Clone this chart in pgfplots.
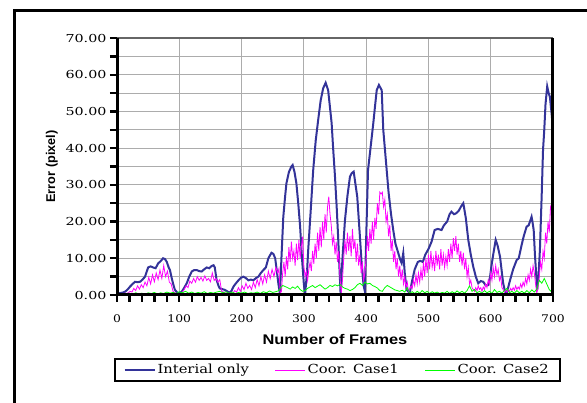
\documentclass[border=0pt]{standalone}
\usepackage{fontspec}
\setmainfont{DejaVu Serif}[FakeStretch=1.18]
\newfontfamily\ytickfont{DejaVu Serif}[FakeStretch=1.3]
\newfontfamily\labelfont{Liberation Sans}[FakeStretch=1.17]
\newfontfamily\ylabelfont{Liberation Sans}
\usepackage{pgfplots}
\pgfplotsset{compat=1.18}
\definecolor{cblue}{RGB}{51,51,153}
\definecolor{cmag}{RGB}{255,0,255}
\definecolor{cgreen}{RGB}{0,255,0}
\begin{document}
\begin{tikzpicture}
\useasboundingbox (0pt,0pt) rectangle (587pt,-403pt);
\fill[white] (0pt,0pt) rectangle (587pt,-403pt);
\draw[line width=2.7pt,black] (14.7pt,-410pt) -- (14.7pt,-10.7pt) -- (600pt,-10.7pt);
\begin{axis}[
  at={(117pt,-295pt)}, anchor=south west,
  scale only axis, width=436pt, height=257pt,
  xmin=0, xmax=700, ymin=0, ymax=70,
  clip mode=individual,
  axis x line*=bottom, axis y line*=left,
  axis line style={line width=3pt, black, -},
  xtick={0,100,...,700}, minor x tick num=4,
  ytick={0,10,...,70}, minor y tick num=1,
  tick align=outside,
  major tick length=7pt, minor tick length=7pt,
  major tick style={black, line width=2.4pt},
  minor tick style={black, line width=2.4pt},
  xmajorgrids, ymajorgrids, yminorgrids,
  major grid style={gray!65, line width=0.9pt},
  minor grid style={gray!65, line width=0.9pt},
  /pgf/number format/assume math mode=true,
  yticklabel style={font=\ytickfont\fontsize{11}{12}\selectfont,
    /pgf/number format/fixed, /pgf/number format/fixed zerofill, /pgf/number format/precision=2},
  xticklabel style={font=\fontsize{10.5}{12}\selectfont, yshift=-9pt},
  xlabel={\labelfont\bfseries Number of Frames},
  ylabel={\ylabelfont\bfseries Error (pixel)},
  xlabel style={at={(axis description cs:0.5,-0.1907)}, anchor=base, font=\fontsize{14}{16}\selectfont},
  ylabel style={at={(axis description cs:-0.142,0.5)}, anchor=base, font=\fontsize{12.7}{15}\selectfont},
  legend style={at={(axis description cs:0.505,-0.245)}, anchor=north, legend columns=3,
    line width=2pt, inner xsep=9pt, inner ysep=3.5pt,
    font=\fontsize{12.5}{14}\selectfont,
    /tikz/every even column/.append style={column sep=24pt}},
  legend cell align=left,
  legend image code/.code={\draw[#1] (0pt,0pt) -- (30pt,0pt);},
]
\addplot[draw=cblue, color=cblue, line width=2pt] coordinates {
(0,0.5)(5,0.5)(10,0.7)(13,0.9)(17,1.5)(21,2.3)(25,3.0)(29,3.6)(33,3.5)(37,3.6)
(41,4.2)(45,5.0)(48,6.5)(50,7.5)(54,7.8)(58,7.5)(62,7.3)(66,8.6)(70,9.2)(74,10.0)
(77,9.8)(80,9.0)(83,7.5)(85,6.8)(88,4.5)(91,2.5)(93,1.4)(96,0.8)(98,0.5)(101,0.6)
(104,0.9)(108,2.0)(112,3.2)(116,5.0)(120,6.4)(124,6.8)(128,6.8)(132,6.5)(136,6.4)(140,7.0)
(144,7.5)(148,7.3)(152,7.9)(155,8.1)(157,7.5)(160,4.0)(163,2.5)(165,1.8)(169,1.6)(173,1.4)
(177,1.0)(181,0.6)(184,1.2)(187,2.3)(191,3.2)(195,4.0)(199,4.7)(203,5.0)(207,4.6)(211,4.0)
(215,4.2)(219,4.0)(223,4.6)(227,5.0)(231,6.0)(235,6.8)(239,7.5)(243,10.0)(248,11.5)(251,11.2)
(254,10.0)(257,6.0)(259,3.2)(261.6,0.3)(264,10)(267,21.3)(270,27)(272,30.4)(276,33.5)(280,35)
(282,35.4)(285,33.5)(288,30.4)(291,25)(294,18.6)(297,10)(300,3)(302,0.2)(305,6)(307,12.3)
(311,23)(315,34)(319,42)(323,47.7)(327,53)(331,56.3)(335,57.8)(339,55.8)(342,51)(344.6,46.8)
(347,40)(350,32.2)(353,23)(355,15.9)(357,8)(359,0.3)(362,10)(366,20.4)(370,27)(374,32.2)
(377,33.2)(380,33.6)(383,30)(385.7,26.8)(388,21)(390,15.9)(393,8)(396,2.5)(398,1.0)(400,15)
(403,34)(407,40)(411.5,46.8)(414,51)(417,55.8)(420.5,57.2)(425,55.8)(427.5,45)(430,40)(433,34)
(436,28)(440,22)(443.5,17.7)(447,14)(451.6,11.4)(455,9.5)(457,8.7)(459.6,11.4)(462,6)(465,1.4)
(470,0.6)(474,4)(478,7)(483,9)(487,9.3)(491,9)(495,11)(500,12.5)(505,14.5)(510,17.7)
(515,18)(521,17.7)(525,19)(530,20)(534,22)(537,22.7)(541,22)(545,22.3)(549,23)(552,24)
(556,25)(560,21)(564,15)(568,11)(572,7.7)(576,5)(580,3.2)(584,3.8)(588,3.6)(592,2.6)
(596,2.7)(599,5)(601,7.7)(604,11)(608,15)(611,13.5)(615,10.4)(618,6)(620,3.2)(623,1)
(625.5,0.5)(628,2)(631,4)(636,7)(641.6,9.5)(645,10)(649.6,13.6)(653,16)(657.6,18.6)(661,19)
(665.6,21.3)(667,20)(669,17.7)(671,11)(674.6,1.4)(677,6)(679,12.3)(682,28)(684,39.5)(686,45)
(688,52)(690.7,56.8)(693,55)(695,54)(698,49)(700,45)
};
\addlegendentry{Interial only}
\addplot[draw=cmag, color=cmag, line width=0.8pt] coordinates {
(0,0.3)(3,0.2)(6,0.4)(9,0.3)(12,0.5)(15,0.4)(18,0.6)(21,1.0)(24,0.8)(27,1.8)
(30,1.2)(33,2.5)(36,1.6)(39,2.8)(42,2.0)(45,3.5)(48,2.5)(51,4.8)(54,3.0)(57,5.5)
(60,3.6)(63,6.0)(66,4.2)(69,6.8)(72,4.5)(75,8.0)(78,5.0)(81,6.5)(84,3.5)(87,3.0)
(90,1.0)(93,0.6)(96,0.4)(99,0.3)(102,0.4)(105,0.8)(108,1.5)(111,2.5)(114,2.0)(117,3.8)
(120,3.2)(123,4.5)(126,3.5)(129,5.0)(132,4.0)(135,4.8)(138,3.8)(141,5.2)(144,4.0)(147,4.5)
(150,3.6)(153,6.0)(156,4.0)(159,4.5)(162,3.5)(165,4.2)(168,1.0)(171,0.8)(174,0.5)(177,0.6)
(180,0.4)(183,0.7)(186,0.5)(189,1.2)(192,0.8)(195,2.0)(198,1.0)(201,2.5)(204,1.5)(207,3.2)
(210,1.8)(213,2.6)(216,1.5)(219,3.5)(222,2.0)(225,4.2)(228,2.5)(231,5.0)(234,3.0)(237,5.5)
(240,3.5)(243,6.5)(246,4.5)(249,7.0)(252,5.0)(255,7.5)(258,6.0)(260,7.2)(262,0.5)(264,1.0)
(266,6.0)(268,9.0)(270,5.0)(272,10.5)(274,7.0)(276,13.0)(278,9.0)(280,14.5)(282,10.0)(284,12.0)
(286,8.0)(288,14.0)(290,9.5)(292,15.0)(294,10.0)(296,13.0)(298,15.9)(300,8.0)(302,5.0)(304,6.5)
(306,4.0)(308,7.0)(310,9.0)(312,6.5)(314,12.0)(316,8.5)(318,14.0)(320,10.0)(322,17.0)(324,12.0)
(326,18.5)(328,13.0)(330,20.0)(332,15.0)(334,22.0)(336,17.0)(338,24.0)(340,26.8)(342,22.0)(344,19.0)
(346,14.0)(348,16.0)(350,11.0)(352,14.5)(354,9.0)(356,12.0)(358,5.0)(360,0.5)(362,4.0)(364,10.0)
(366,15.0)(368,11.0)(370,17.0)(372,12.0)(374,16.0)(376,10.5)(378,18.0)(380,12.5)(382,15.0)(384,9.0)
(386,14.0)(388,8.0)(390,11.0)(392,6.0)(394,9.0)(396,4.0)(398,6.0)(400,10.0)(402,16.0)(404,12.0)
(406,18.0)(408,14.0)(410,20.0)(412,15.0)(414,21.0)(416,18.0)(418,25.0)(420,22.0)(422,28.0)(424,27.5)
(426,28.0)(428,24.0)(430,26.0)(432,20.0)(434,22.0)(436,16.0)(438,19.0)(440,12.0)(442,15.0)(444,9.0)
(446,12.0)(448,7.0)(450,10.0)(452,5.0)(454,8.0)(456,4.0)(458,7.0)(460,3.0)(462,5.0)(464,2.0)
(466,3.5)(468,1.0)(470,1.5)(472,2.5)(474,1.8)(476,4.0)(478,2.5)(480,5.5)(482,3.0)(484,6.0)
(486,3.5)(488,7.0)(490,4.0)(492,9.0)(494,5.0)(496,10.0)(498,6.0)(500,11.0)(502,7.0)(504,12.0)
(506,7.5)(508,10.0)(510,6.5)(512,12.0)(514,8.0)(516,11.0)(518,7.0)(520,12.5)(522,8.0)(524,11.0)
(526,7.5)(528,10.5)(530,8.0)(532,12.5)(534,9.0)(536,14.0)(538,10.0)(540,15.5)(542,12.0)(544,16.0)
(546,11.0)(548,14.0)(550,9.0)(552,12.0)(554,8.0)(556,11.5)(558,7.0)(560,10.0)(562,5.0)(564,7.5)
(566,3.0)(568,4.0)(570,2.0)(572,1.5)(574,1.0)(576,2.0)(578,1.2)(580,2.5)(582,1.5)(584,2.0)
(586,1.0)(588,2.2)(590,1.5)(592,3.0)(594,2.0)(596,4.0)(598,3.0)(600,6.0)(602,4.0)(604,7.5)
(606,5.0)(608,8.0)(610,5.5)(612,7.0)(614,4.0)(616,5.0)(618,2.0)(620,1.5)(622,0.8)(624,1.2)
(626,0.8)(628,1.5)(630,1.0)(632,1.8)(634,1.2)(636,2.0)(638,1.3)(640,2.5)(642,1.5)(644,2.2)
(646,1.6)(648,3.0)(650,2.0)(652,3.5)(654,2.5)(656,4.5)(658,3.0)(660,5.5)(662,4.0)(664,7.0)
(666,5.0)(668,8.0)(670,6.0)(672,3.0)(674,0.5)(676,2.0)(678,5.0)(680,9.0)(682,7.0)(684,12.0)
(686,10.0)(688,17.0)(690,14.0)(692,20.0)(694,17.0)(696,24.0)(698,25.0)(700,20.0)
};
\addlegendentry{Coor. Case1}
\addplot[draw=cgreen, color=cgreen, line width=0.8pt] coordinates {
(0,0.3)(5,0.2)(10,0.4)(15,0.3)(20,0.5)(25,0.2)(30,0.6)(35,0.3)(40,0.5)(45,0.2)
(50,0.6)(55,0.4)(60,0.7)(65,0.3)(70,0.6)(75,0.4)(80,0.8)(85,0.5)(90,0.7)(95,0.4)
(100,0.9)(105,0.6)(110,1.0)(115,0.5)(120,0.8)(125,0.4)(130,0.7)(135,0.5)(140,0.9)(145,0.4)
(150,0.7)(155,0.5)(160,0.8)(165,1.0)(170,0.6)(175,0.9)(180,0.5)(185,0.8)(190,0.4)(195,0.7)
(200,0.5)(205,0.8)(210,0.4)(215,0.6)(220,0.5)(225,0.8)(230,0.4)(235,0.9)(240,0.6)(245,1.1)
(250,0.7)(255,0.9)(260,1.2)(263,2.0)(266,2.6)(270,2.3)(274,2.0)(278,1.6)(282,2.2)(286,1.8)
(290,2.4)(294,1.5)(298,1.0)(302,1.2)(306,1.8)(310,2.2)(314,2.6)(318,2.0)(322,2.4)(326,2.8)
(330,2.2)(334,1.6)(338,2.0)(342,2.6)(346,2.3)(350,2.8)(354,2.5)(358,2.9)(362,2.2)(366,1.8)
(370,1.6)(374,1.2)(378,1.5)(382,2.0)(386,2.8)(390,3.2)(394,2.6)(398,3.5)(402,3.0)(406,3.2)
(410,2.6)(414,2.3)(418,1.9)(422,1.2)(426,1.0)(430,2.0)(434,2.6)(438,2.2)(442,1.8)(446,1.4)
(450,1.2)(454,1.0)(458,1.3)(462,0.8)(466,2.0)(470,0.5)(474,0.9)(478,0.4)(482,1.0)(486,0.5)
(490,1.2)(494,0.6)(498,1.0)(502,0.4)(506,0.9)(510,0.5)(514,0.8)(518,0.4)(522,0.7)(526,0.5)
(530,1.0)(534,0.4)(538,0.9)(542,0.5)(546,1.1)(550,0.6)(554,1.0)(558,0.5)(562,1.2)(566,2.5)
(570,1.0)(574,1.5)(578,0.6)(582,1.0)(586,0.5)(590,1.2)(594,0.6)(598,1.0)(602,0.4)(606,1.5)
(610,0.7)(614,1.0)(618,0.5)(622,1.2)(626,1.8)(630,0.6)(634,1.0)(638,0.5)(642,1.2)(646,0.6)
(650,1.0)(654,0.5)(658,1.2)(662,0.6)(666,1.4)(670,0.8)(674,1.6)(678,4.0)(682,3.2)(686,4.5)
(690,3.0)(694,1.5)(698,0.8)(700,2.0)
};
\addlegendentry{Coor. Case2}
\draw[gray!80!black, line width=1.2pt] (rel axis cs:0,1) -- (rel axis cs:1,1);
\draw[black, line width=3pt] (rel axis cs:0,1) -- (rel axis cs:0,0) -- (rel axis cs:1,0) -- (rel axis cs:1,1);
\end{axis}
\end{tikzpicture}
\end{document}
